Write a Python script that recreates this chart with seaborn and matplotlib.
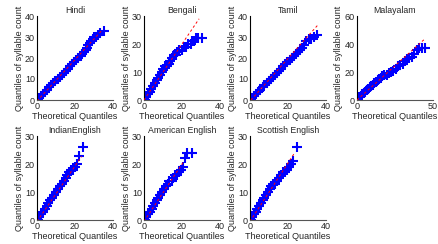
import matplotlib
matplotlib.use("Agg")
import matplotlib.pyplot as plt
import seaborn as sns

# Q-Q data (theoretical quantile, syllable-count quantile)
hindi_x = [0.3, 1.2, 2.0, 3.1, 4.2, 5.3, 6.4, 7.5, 8.6, 9.7, 10.8, 11.9, 13.0, 14.1, 15.2, 16.3, 17.4,
           18.5, 19.6, 20.7, 21.8, 22.9, 23.9, 24.8, 25.6, 26.3, 27.0, 27.8, 28.6, 29.3, 30.1, 31.0, 32.2, 33.0, 35.4]
hindi_y = [0, 1, 2, 3, 4, 5, 6, 7, 8, 9, 10, 11, 12, 13, 14, 15, 16,
           17, 18, 19, 20, 21, 22, 23, 24, 25, 26, 27, 28, 29, 30, 30, 31, 32, 33]

bengali_x = [0.3, 1.2, 2.1, 3.0, 3.9, 4.8, 5.7, 6.6, 7.5, 8.4, 9.3, 10.2, 11.1, 12.0, 13.0, 13.9, 14.8, 15.7,
             16.7, 17.6, 18.6, 19.8, 21.0, 22.3, 23.4, 24.5, 25.4, 26.3, 27.2, 28.5, 30.5]
bengali_y = [0, 1, 2, 3, 4, 5, 6, 7, 8, 9, 10, 11, 12, 12, 13, 14, 15, 16,
             16, 17, 18, 18, 19, 19, 20, 20, 21, 21, 22, 22, 22]

tamil_x = [0.3, 1.3, 2.3, 3.3, 4.4, 5.5, 6.6, 7.6, 8.7, 9.8, 10.9, 12.0, 13.1, 14.2, 15.3, 16.4, 17.5,
           18.6, 19.7, 20.8, 21.9, 23.0, 24.1, 25.2, 26.3, 27.4, 28.5, 29.6, 31.0, 32.3, 33.5, 35.3]
tamil_y = [0, 1, 2, 3, 4, 5, 6, 7, 8, 9, 10, 11, 12, 13, 14, 15, 16,
           17, 18, 19, 20, 21, 22, 23, 24, 25, 26, 28, 29, 29, 30, 31]

malayalam_x = [0.5, 1.5, 2.5, 3.5, 4.5, 5.5, 6.5, 7.5, 8.5, 9.5, 10.5, 11.5, 12.5, 13.5, 14.5, 15.5, 16.5,
               18.0, 19.5, 21.0, 22.5, 24.0, 25.5, 27.0, 28.5, 30.0, 31.5, 33.0, 34.5, 36.0, 37.5, 39.3,
               41.0, 42.5, 44.7]
malayalam_y = [0, 2, 3, 4, 5, 6, 7, 8, 9, 10, 11, 12, 13, 14, 15, 16, 17,
               18, 18, 19, 20, 21, 22, 24, 25, 26, 28, 29, 30, 31, 33, 36,
               37, 37, 37]

indian_x = [0.5, 1.3, 2.2, 3.1, 4.0, 5.0, 6.0, 7.0, 8.0, 9.0, 10.0, 11.0, 12.0, 13.0, 14.0, 15.0,
            16.0, 17.0, 18.0, 19.0, 20.0, 21.2, 22.3, 24.4]
indian_y = [0, 1, 2, 3, 4, 5, 6, 7, 8, 9, 10, 11, 12, 13, 14, 15,
            16, 17, 18, 18, 19, 20, 23, 26]

american_x = [0.4, 1.3, 2.2, 3.1, 4.0, 4.9, 5.8, 6.7, 7.6, 8.5, 9.4, 10.4, 11.4, 12.4, 13.4, 14.5,
              15.5, 16.5, 17.6, 18.6, 19.6, 20.7, 21.5, 22.4, 25.1]
american_y = [0, 1, 2, 3, 4, 5, 6, 7, 8, 9, 10, 11, 12, 13, 14, 14,
              15, 16, 16, 17, 18, 19, 22, 24, 24]

scottish_x = [0.4, 1.3, 2.2, 3.0, 3.9, 4.8, 5.7, 6.6, 7.5, 8.4, 9.3, 10.3, 11.3, 12.3, 13.3, 14.3,
              15.3, 16.3, 17.4, 18.5, 19.6, 20.6, 21.5, 22.8, 24.6]
scottish_y = [0, 1, 2, 3, 4, 5, 6, 7, 8, 9, 10, 11, 12, 13, 13, 14,
              15, 16, 17, 17, 18, 19, 20, 21, 26]

# reference line end points (x0, x1), (y0, y1)
ref_x = [(0, 34), (0, 29), (0.5, 35.5), (0, 45), (0, 23.5), (0, 21), (0, 23.5)]
ref_y = [(-0.5, 33), (0, 29), (0, 35.5), (0, 44), (-0.5, 22.7), (-0.5, 21), (-0.5, 24)]

titles = ["Hindi", "Bengali", "Tamil", "Malayalam",
          "IndianEnglish", "American English", "Scottish English"]
xlims = [40, 40, 40, 50, 40, 40, 40]
ylims = [40, 30, 40, 60, 30, 30, 30]
xticks = [[0, 20, 40], [0, 20, 40], [0, 20, 40], [0, 50], [0, 20, 40], [0, 20, 40], [0, 20, 40]]
yticks = [[0, 10, 20, 30, 40], [0, 10, 20, 30], [0, 10, 20, 30, 40], [0, 20, 40, 60],
          [0, 10, 20, 30], [0, 10, 20, 30], [0, 10, 20, 30]]

xs = [hindi_x, bengali_x, tamil_x, malayalam_x, indian_x, american_x, scottish_x]
ys = [hindi_y, bengali_y, tamil_y, malayalam_y, indian_y, american_y, scottish_y]

sns.set_style("white")
plt.rcParams["font.family"] = ["Liberation Sans", "DejaVu Sans"]
plt.rcParams["font.size"] = 6.5

TEXT = "#262626"

fig = plt.figure(figsize=(4.38, 2.44), dpi=100)
lefts = [37, 144, 250, 357]
W, H = 438, 244

for i, title in enumerate(titles):
    row, col = divmod(i, 4)
    top_px = 16 if row == 0 else 136
    ax = fig.add_axes([lefts[col] / W, (H - top_px - 84) / H, 76 / W, 84 / H])

    sns.scatterplot(x=xs[i], y=ys[i], ax=ax, marker="+", color="blue",
                    s=60, linewidth=1.5, zorder=2)
    sns.lineplot(x=list(ref_x[i]), y=list(ref_y[i]), ax=ax, color="red",
                 linestyle=(0, (2.5, 2.5)), linewidth=0.7, zorder=3)

    ax.set_xlim(0, xlims[i])
    ax.set_ylim(0, ylims[i])
    ax.set_xticks(xticks[i])
    ax.set_yticks(yticks[i])
    ax.tick_params(direction="in", length=2, width=0.6, pad=1.5, labelsize=6.5, colors=TEXT)
    ax.set_title(title, fontsize=6.3, pad=2, color=TEXT)
    ax.set_xlabel("Theoretical Quantiles", fontsize=6.5, labelpad=0.5, color=TEXT)
    ax.set_ylabel("Quantiles of syllable count", fontsize=6.5, labelpad=1, color=TEXT)
    for side in ["top", "right"]:
        ax.spines[side].set_visible(False)
    ax.spines["left"].set_color("black")
    ax.spines["left"].set_linewidth(0.8)
    ax.spines["bottom"].set_color("#555555")
    ax.spines["bottom"].set_linewidth(0.8)
    ax.patch.set_alpha(0)

fig.savefig("out.png", dpi=100, facecolor="white")
plt.close(fig)
